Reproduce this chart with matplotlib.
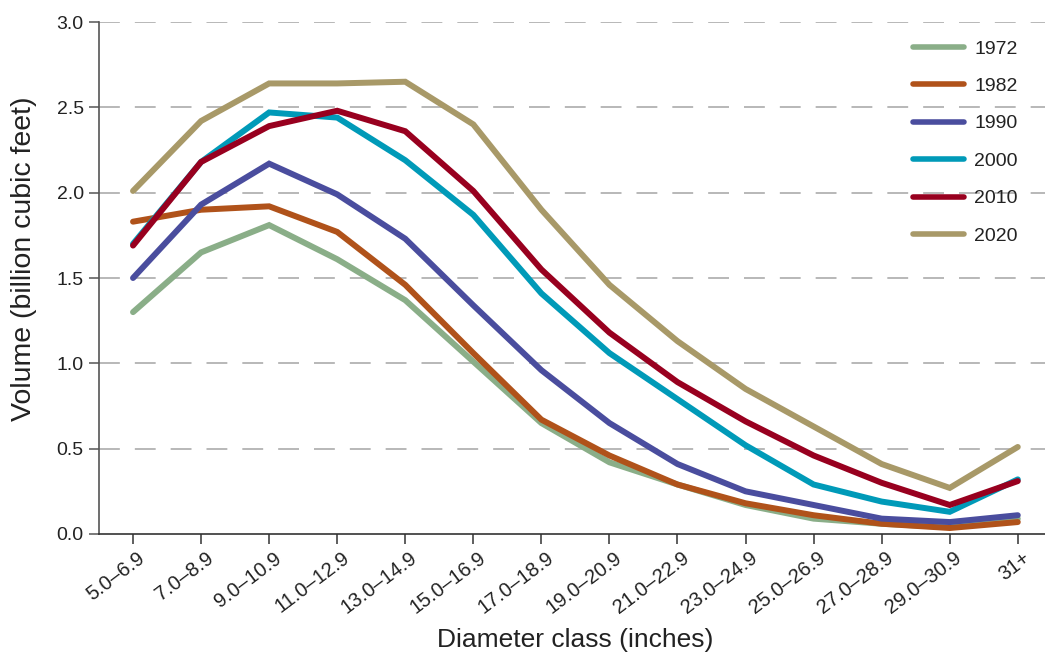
import matplotlib
matplotlib.use("Agg")
import matplotlib.pyplot as plt
from matplotlib.transforms import ScaledTranslation, blended_transform_factory

plt.rcParams['font.family'] = ['Liberation Sans', 'DejaVu Sans']

# Diameter classes (inches)
classes = ["5.0–6.9", "7.0–8.9", "9.0–10.9", "11.0–12.9", "13.0–14.9",
           "15.0–16.9", "17.0–18.9", "19.0–20.9", "21.0–22.9", "23.0–24.9",
           "25.0–26.9", "27.0–28.9", "29.0–30.9", "31+"]

# Volume by inventory year (billion cubic feet)
years = ["1972", "1982", "1990", "2000", "2010", "2020"]
vol_1972 = [1.30, 1.65, 1.81, 1.61, 1.37, 1.01, 0.65, 0.42, 0.29, 0.17, 0.09, 0.06, 0.04, 0.09]
vol_1982 = [1.83, 1.90, 1.92, 1.77, 1.46, 1.06, 0.67, 0.46, 0.29, 0.18, 0.11, 0.06, 0.035, 0.07]
vol_1990 = [1.50, 1.93, 2.17, 1.99, 1.73, 1.34, 0.96, 0.65, 0.41, 0.25, 0.17, 0.09, 0.07, 0.11]
vol_2000 = [1.70, 2.18, 2.47, 2.44, 2.19, 1.87, 1.41, 1.06, 0.79, 0.52, 0.29, 0.19, 0.13, 0.32]
vol_2010 = [1.69, 2.18, 2.39, 2.48, 2.36, 2.01, 1.55, 1.18, 0.89, 0.66, 0.46, 0.30, 0.17, 0.31]
vol_2020 = [2.01, 2.42, 2.64, 2.64, 2.65, 2.40, 1.90, 1.46, 1.13, 0.85, 0.63, 0.41, 0.27, 0.51]
series = [vol_1972, vol_1982, vol_1990, vol_2000, vol_2010, vol_2020]
colors = ["#8aae88", "#b0521a", "#4a4d9e", "#009ab8", "#98001f", "#a89968"]

W, H = 1045, 657
fig = plt.figure(figsize=(W / 100, H / 100), dpi=100)
ax = fig.add_axes([99 / W, (H - 534) / H, (W - 99) / W, (534 - 22) / H])

x = list(range(len(classes)))
for label, vals, c in zip(years, series, colors):
    ax.plot(x, vals, color=c, lw=4.3, label=label,
            solid_capstyle='round', solid_joinstyle='miter')

ax.set_xlim(-0.5, 13.4)
ax.set_ylim(0, 3.0)

yt = [0.0, 0.5, 1.0, 1.5, 2.0, 2.5, 3.0]
ax.set_yticks(yt)
ax.set_yticklabels([f"{v:.1f}" for v in yt], fontsize=14, color="#222222")
for v in yt[1:]:
    ax.axhline(v, color="#ababab", lw=1.2, linestyle=(0, (12.5, 9)), zorder=0)

# category ticks with slanted labels set just right of each tick
ax.set_xticks(x)
ax.set_xticklabels([])
base = blended_transform_factory(ax.transData, ax.transAxes)
offset = ScaledTranslation(10 / 100, -22 / 100, fig.dpi_scale_trans)
for xi, name in zip(x, classes):
    ax.text(xi, 0, name, transform=base + offset, rotation=37,
            rotation_mode='anchor', ha='right', va='center',
            fontsize=14.5, color="#222222", clip_on=False)

for s in ["top", "right"]:
    ax.spines[s].set_visible(False)
ax.spines["left"].set_color("#555555")
ax.spines["left"].set_linewidth(1.2)
ax.spines["bottom"].set_color("#333333")
ax.spines["bottom"].set_linewidth(1.2)
ax.tick_params(axis='y', length=7, width=1.1, color="#555555", pad=4)
ax.tick_params(axis='x', length=7, width=1.1, color="#333333")

ax.set_xlabel("Diameter class (inches)", fontsize=19, color="#222222")
ax.set_ylabel("Volume (billion cubic feet)", fontsize=20.5, color="#222222")
# label centres placed in figure pixels
ax.xaxis.set_label_coords(575 / W, (H - 640) / H, transform=fig.transFigure)
ax.xaxis.label.set_va('center')
ax.yaxis.set_label_coords(24 / W, (H - 259) / H, transform=fig.transFigure)
ax.yaxis.label.set_va('center')

leg = ax.legend(loc='upper left', bbox_to_anchor=(913 / W, 1 - 40 / H),
                bbox_transform=fig.transFigure, frameon=False, borderpad=0,
                borderaxespad=0, fontsize=14, handlelength=2.6,
                handletextpad=0.55, labelspacing=1.02)
for h in leg.get_lines():
    h.set_linewidth(4.0)
for t in leg.get_texts():
    t.set_color("#222222")

fig.savefig("out.png", dpi=100)
